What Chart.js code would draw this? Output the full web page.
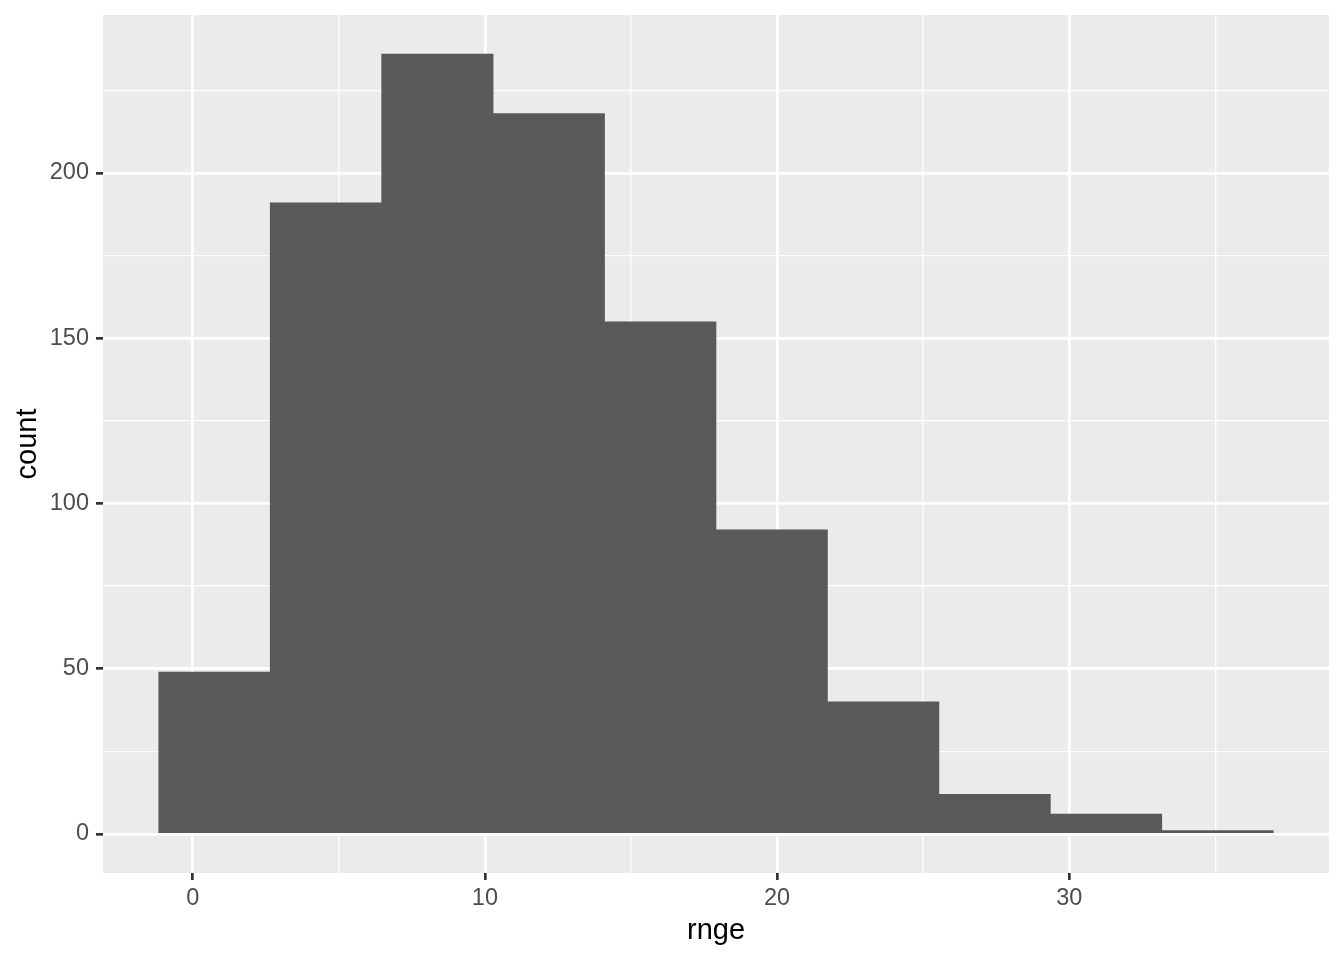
<!DOCTYPE html>
<html>
<head>
<meta charset="utf-8">
<script src="https://cdn.jsdelivr.net/npm/chart.js@4.4.0/dist/chart.umd.min.js"></script>
<style>
  html, body { margin: 0; padding: 0; background: #ffffff; }
  #wrap { width: 1344px; height: 960px; }
</style>
</head>
<body>
<div id="wrap"><canvas id="histChart" width="1344" height="960"></canvas></div>
<script>
// histogram of rnge, 10 bins
var binCenters = [0.744, 4.559, 8.374, 12.188, 16.003, 19.817, 23.632, 27.447, 31.261, 35.076]
var binCounts = [49, 191, 236, 218, 155, 92, 40, 12, 6, 1]
var xMajorTicks = [0, 10, 20, 30]
var xMinorTicks = [5, 15, 25, 35]
var yMajorTicks = [0, 50, 100, 150, 200]
var yMinorTicks = [25, 75, 125, 175, 225]

var binWidth = binCenters[1] - binCenters[0]
var xLo = binCenters[0] - binWidth / 2
var xHi = binCenters[binCenters.length - 1] + binWidth / 2
var yHi = Math.max.apply(null, binCounts)

function allTicks(major, minor){
  return major.concat(minor).sort((a, b) => a - b).map(v => ({value: v}))
}

var panelBg = {
  id: 'panelBg',
  beforeDraw: function(chart){
    var a = chart.chartArea
    var ctx = chart.ctx
    ctx.save()
    ctx.fillStyle = '#EBEBEB'
    ctx.fillRect(a.left, a.top, a.right - a.left, a.bottom - a.top)
    ctx.restore()
  }
}

function gridOpts(major){
  return {
    color: '#FFFFFF',
    lineWidth: c => major.includes(c.tick.value) ? 2.7 : 1.35,
    tickColor: c => major.includes(c.tick.value) ? '#333333' : 'rgba(0,0,0,0)',
    tickWidth: 2.7,
    tickLength: 7,
    drawTicks: true,
    offset: false
  }
}

// fixed axis box sizes, no label overflow padding
function fixBox(size, horizontal){
  return function(scale){
    if (horizontal) scale.height = size
    else scale.width = size
    scale.paddingTop = 0
    scale.paddingBottom = 0
    scale.paddingLeft = 0
    scale.paddingRight = 0
  }
}

var tickFont = {family: '"Liberation Sans", Arial, sans-serif', size: 23.5}
var titleFont = {family: '"Liberation Sans", Arial, sans-serif', size: 29}

var histCanvas = document.getElementById('histChart')
var histChart = new Chart(histCanvas, {
  type: 'bar',
  data: {
    datasets: [{
      label: 'count',
      data: binCenters.map((x, i) => ({x: x, y: binCounts[i]})),
      backgroundColor: '#595959',
      borderWidth: 0,
      barPercentage: 1,
      categoryPercentage: 1
    }]
  },
  options: {
    responsive: false,
    devicePixelRatio: 1,
    animation: false,
    layout: {padding: {top: 15, right: 15, left: 0, bottom: 0}},
    plugins: {
      legend: {display: false},
      tooltip: {enabled: false}
    },
    scales: {
      x: {
        type: 'linear',
        offset: false,
        min: xLo - 0.05 * (xHi - xLo),
        max: xHi + 0.05 * (xHi - xLo),
        afterBuildTicks: function(scale){ scale.ticks = allTicks(xMajorTicks, xMinorTicks) },
        afterFit: fixBox(87, true),
        border: {display: false},
        grid: gridOpts(xMajorTicks),
        ticks: {
          autoSkip: false,
          maxRotation: 0,
          padding: 4,
          color: '#4D4D4D',
          font: tickFont,
          callback: v => xMajorTicks.includes(v) ? String(v) : ''
        },
        title: {display: true, text: 'rnge', color: '#000000', font: titleFont, padding: {top: 0, bottom: 12}}
      },
      y: {
        type: 'linear',
        min: -0.05 * yHi,
        max: yHi * 1.05,
        afterBuildTicks: function(scale){ scale.ticks = allTicks(yMajorTicks, yMinorTicks) },
        afterFit: fixBox(103, false),
        border: {display: false},
        grid: gridOpts(yMajorTicks),
        ticks: {
          autoSkip: false,
          padding: 7,
          color: '#4D4D4D',
          font: tickFont,
          callback: v => yMajorTicks.includes(v) ? String(v) : ''
        },
        title: {display: true, text: 'count', color: '#000000', font: titleFont, padding: {top: 11, bottom: 0}}
      }
    }
  },
  plugins: [panelBg]
})
</script>
</body>
</html>
